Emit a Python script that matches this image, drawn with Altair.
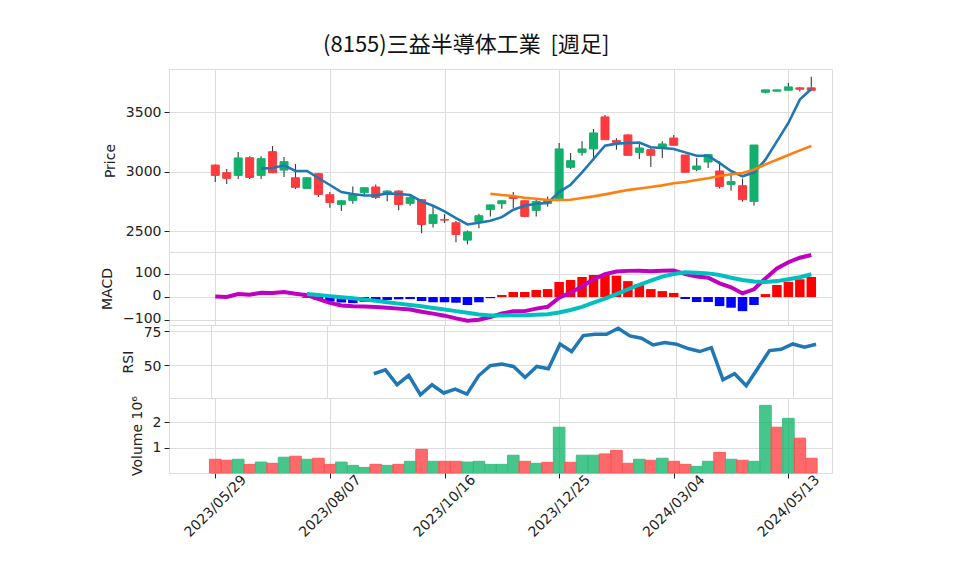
import altair as alt
import pandas as pd

title_text = "(8155)三益半導体工業 \u00a0[週足]"
tick_idx = [0, 10, 20, 30, 40, 50]
tick_labels = ["2023/05/29", "2023/08/07", "2023/10/16", "2023/12/25", "2024/03/04", "2024/05/13"]

opens = [3056, 2992, 2969, 3118, 2969, 3169, 3014, 2949, 2859, 2983,
         2806, 2724, 2758, 2823, 2871, 2809, 2837, 2733, 2764, 2564,
         2596, 2569, 2423, 2578, 2680, 2730, 2792, 2755, 2674, 2733,
         2772, 3037, 3163, 3192, 3462, 3262, 3310, 3163, 3186, 3206,
         3284, 3141, 3020, 3082, 3006, 2893, 2882, 2750, 3670, 3679,
         3687, 3707, 3707]
highs = [3060, 3023, 3166, 3130, 3130, 3217, 3124, 3065, 2955, 2990,
         2828, 2760, 2876, 2870, 2893, 2843, 2843, 2806, 2769, 2713,
         2642, 2584, 2505, 2645, 2722, 2758, 2828, 2758, 2769, 2792,
         3242, 3158, 3256, 3360, 3479, 3282, 3315, 3234, 3206, 3256,
         3310, 3141, 3116, 3144, 3088, 2989, 2941, 3225, 3690, 3690,
         3749, 3715, 3800]
lows = [2913, 2896, 2938, 2938, 2938, 2986, 2955, 2854, 2854, 2786,
        2696, 2668, 2730, 2803, 2769, 2750, 2676, 2713, 2482, 2530,
        2567, 2406, 2389, 2524, 2623, 2688, 2693, 2617, 2623, 2707,
        2760, 3023, 3135, 3093, 3270, 3186, 3135, 3107, 3040, 3116,
        3220, 2995, 3003, 3031, 2859, 2840, 2747, 2716, 3662, 3679,
        3687, 3676, 3687]
closes = [2969, 2944, 3116, 2952, 3110, 2992, 3085, 2868, 2949, 2809,
          2741, 2755, 2806, 2865, 2783, 2837, 2724, 2781, 2555, 2637,
          2592, 2471, 2493, 2629, 2720, 2755, 2775, 2623, 2750, 2758,
          3192, 3093, 3192, 3327, 3270, 3248, 3138, 3200, 3138, 3234,
          3223, 2995, 3048, 3144, 2876, 2916, 2764, 3225, 3690, 3690,
          3715, 3695, 3687]

ma5 = [None] * 4 + [3026, 3031, 3054, 3006, 3006, 2947, 2888, 2828, 2812, 2800,
                    2800, 2817, 2812, 2803, 2750, 2713, 2665, 2609, 2555, 2569,
                    2587, 2617, 2679, 2713, 2730, 2736, 2828, 2890, 2995, 3107,
                    3220, 3237, 3242, 3245, 3206, 3200, 3192, 3163, 3135, 3135,
                    3073, 3006, 2961, 2995, 3101, 3256, 3411, 3608, 3698]
ma25 = [None] * 24 + [2814, 2803, 2795, 2781, 2772, 2761, 2761, 2764, 2778, 2792,
                      2809, 2828, 2845, 2859, 2871, 2885, 2902, 2913, 2930, 2945,
                      2964, 2978, 2989, 3017, 3062, 3101, 3141, 3180, 3217]

macd = [2, 0, 13, 10, 19, 18, 22, 14, 8, -9,
        -26, -37, -41, -42, -44, -47, -51, -55, -65, -73,
        -82, -94, -104, -100, -88, -72, -63, -62, -51, -43,
        -3, 19, 46, 78, 101, 112, 115, 116, 113, 116,
        117, 101, 90, 85, 60, 43, 16, 34, 82, 126,
        153, 173, 185]
signal = [None] * 8 + [13, 9, 4, -1, -5, -11, -16, -23, -29, -35,
                       -41, -48, -55, -62, -69, -77, -81, -81, -80, -80,
                       -78, -76, -68, -57, -43, -25, -7, 13, 34, 54,
                       72, 90, 101, 109, 107, 104, 97, 85, 75, 68,
                       66, 70, 78, 87, 100]
hist = [None] * 8 + [-3, -13, -20, -24, -27, -21, -16, -13, -10, -9,
                     -18, -23, -23, -25, -35, -23, -5, 9, 22, 22,
                     31, 35, 66, 75, 88, 97, 97, 94, 70, 57,
                     35, 26, 18, -9, -22, -22, -40, -47, -62, -35,
                     13, 53, 67, 78, 88]

rsi = [None] * 14 + [43.4, 46.3, 35.3, 42.2, 27.9, 35.3, 29.2, 32.1, 28.4, 41.9,
                     49.4, 50.5, 48.8, 40.7, 48.8, 47.1, 65.4, 59.8, 71.6, 72.6,
                     72.6, 77.0, 71.3, 69.6, 64.7, 66.4, 65.2, 62.0, 59.8, 62.7,
                     39.0, 43.4, 34.6, 47.5, 60.5, 61.5, 65.4, 63.0, 65.2]

volume_m = [0.54, 0.50, 0.54, 0.34, 0.43, 0.38, 0.62, 0.66, 0.54, 0.58,
            0.34, 0.43, 0.30, 0.22, 0.34, 0.30, 0.34, 0.46, 0.93, 0.46,
            0.46, 0.46, 0.43, 0.46, 0.34, 0.34, 0.70, 0.46, 0.38, 0.42,
            1.80, 0.42, 0.70, 0.70, 0.75, 0.89, 0.38, 0.54, 0.50, 0.58,
            0.46, 0.34, 0.26, 0.46, 0.81, 0.54, 0.50, 0.46, 2.66, 1.80,
            2.15, 1.37, 0.58]
volume_dir = ["down", "down", "up", "down", "up", "down", "up", "down", "up", "down",
              "down", "up", "up", "up", "down", "up", "down", "up", "down", "up",
              "down", "down", "up", "up", "up", "up", "up", "down", "up", "down",
              "up", "down", "up", "up", "down", "down", "down", "up", "down", "up",
              "down", "down", "up", "up", "down", "up", "down", "up", "up", "down",
              "up", "down", "down"]

n = len(opens)
df = pd.DataFrame({
    "i": list(range(n)),
    "open": opens, "high": highs, "low": lows, "close": closes,
    "ma5": ma5, "ma25": ma25,
    "macd": macd, "signal": signal, "hist": hist,
    "rsi": rsi, "vol": volume_m,
})
df["dir"] = ["up" if c >= o else "down" for o, c in zip(opens, closes)]
df["hdir"] = [None if h is None else ("pos" if h >= 0 else "neg") for h in hist]
df["vdir"] = ["vup" if v == "up" else "vdown" for v in volume_dir]

FONT = "Noto Sans CJK JP"
LFONT = "DejaVu Sans"
FS = 14
W = 663
x_domain = [-3.6, 53.37]

label_expr = " : ".join(
    f"datum.value == {v} ? '{t}'" for v, t in zip(tick_idx, tick_labels)
) + " : ''"


def xenc(bottom=False):
    if bottom:
        ax = alt.Axis(values=tick_idx, labelExpr=label_expr, title=None,
                      labelAngle=315, labelAlign="center", labelBaseline="middle",
                      labelPadding=28, tickSize=5, domain=False, grid=True,
                      labelFontSize=FS, labelFont=LFONT, labelColor="#222",
                      tickColor="#222")
    else:
        ax = alt.Axis(values=tick_idx, labels=False, ticks=False, domain=False,
                      grid=True, title=None)
    return alt.X("i:Q", scale=alt.Scale(domain=x_domain, nice=False, zero=False), axis=ax)


def yaxis(values, title, offset=0):
    return alt.Axis(values=values, title=title, domain=False, tickSize=5, format="d",
                    labelFontSize=FS, labelFont=LFONT, titleFont=LFONT,
                    titleFontSize=FS, titleFontWeight="normal", labelColor="#222",
                    titleColor="#222", tickColor="#222", titlePadding=8, labelPadding=3,
                    labelOffset=offset)


up_c, down_c = "#12b06c", "#fd3a3d"

# ---- price panel
py_scale = alt.Scale(domain=[2323, 3866], nice=False, zero=False)
pax = yaxis([2500, 3000, 3500], "Price")
base = alt.Chart(df)
wick = base.mark_rule(color="#3a3a3a", strokeWidth=1.1).encode(
    x=xenc(), y=alt.Y("low:Q", scale=py_scale, axis=pax), y2="high:Q")
body = base.mark_bar(size=8, strokeWidth=1).encode(
    x=xenc(), y=alt.Y("open:Q", scale=py_scale, axis=pax), y2="close:Q",
    color=alt.Color("dir:N", scale=alt.Scale(domain=["up", "down"], range=[up_c, down_c]), legend=None),
    stroke=alt.Stroke("dir:N", scale=alt.Scale(domain=["up", "down"], range=[up_c, down_c]), legend=None))
l5 = base.mark_line(color="#1f77b4", strokeWidth=2.6).encode(
    x=xenc(), y=alt.Y("ma5:Q", scale=py_scale, axis=pax))
l25 = base.mark_line(color="#ff7f0e", strokeWidth=2.6).encode(
    x=xenc(), y=alt.Y("ma25:Q", scale=py_scale, axis=pax))
price = alt.layer(wick, body, l5, l25).properties(width=W, height=183)

# ---- MACD panel
my_scale = alt.Scale(domain=[-123, 198], nice=False, zero=False)
max_ = yaxis([-100, 0, 100], "MACD", offset=-1.5)
hbar = base.mark_bar(size=9.5).encode(
    x=xenc(), y=alt.Y("hist:Q", scale=my_scale, axis=max_), y2=alt.datum(0),
    color=alt.Color("hdir:N", scale=alt.Scale(domain=["pos", "neg"], range=["#ff0000", "#0000ff"]), legend=None))
mline = base.mark_line(color="#bf00bf", strokeWidth=4).encode(
    x=xenc(), y=alt.Y("macd:Q", scale=my_scale, axis=max_))
sline = base.mark_line(color="#00bfbf", strokeWidth=4).encode(
    x=xenc(), y=alt.Y("signal:Q", scale=my_scale, axis=max_))
macd_panel = alt.layer(hbar, mline, sline).properties(width=W, height=73)

# ---- RSI panel
rsi_panel = base.mark_line(color="#1f77b4", strokeWidth=3.5).encode(
    x=xenc(), y=alt.Y("rsi:Q", scale=alt.Scale(domain=[25.5, 79.4], nice=False, zero=False),
                      axis=yaxis([50, 75], "RSI", offset=1.5))).properties(width=W, height=73)

# ---- Volume panel
vol_panel = base.mark_bar(size=11.6, strokeWidth=1, fillOpacity=0.72).encode(
    x=xenc(bottom=True),
    y=alt.Y("vol:Q", scale=alt.Scale(domain=[0, 2.95], nice=False),
            axis=yaxis([1, 2], "Volume  10⁶")),
    color=alt.Color("vdir:N", scale=alt.Scale(domain=["vup", "vdown"], range=["#00b060", "#fe3032"]), legend=None),
    stroke=alt.Stroke("vdir:N", scale=alt.Scale(domain=["vup", "vdown"], range=["#3cc086", "#ff5a5a"]), legend=None),
).properties(width=W, height=75)

chart = alt.vconcat(price, macd_panel, rsi_panel, vol_panel, spacing=0, bounds="flush").resolve_scale(
    color="independent", stroke="independent"
).properties(
    title=alt.TitleParams(text=title_text, fontSize=22, font=FONT, fontWeight="normal",
                          anchor="middle", color="#111", offset=12),
    padding={"left": 92, "top": 25, "right": 10, "bottom": 10},
).configure_view(fill="#f9f9f9", stroke="#ececec").configure_axis(
    gridColor="#cfcfcf", gridWidth=1.1
).configure(background="white")

chart.save("out.html", embed_options={"renderer": "svg", "actions": False})
